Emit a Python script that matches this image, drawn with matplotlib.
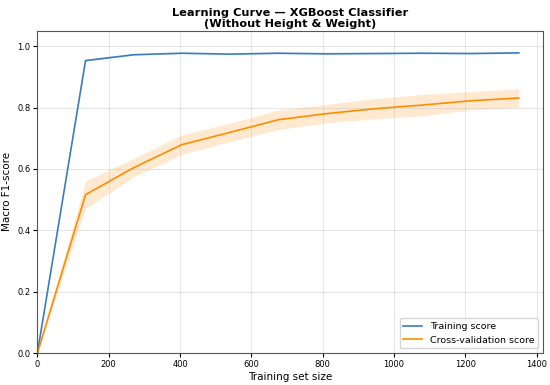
import matplotlib
matplotlib.use('Agg')
import matplotlib.pyplot as plt
import numpy as np

train_sizes = [0, 135, 270, 405, 540, 675, 810, 945, 1080, 1215, 1350]
train_mean = [0.0, 0.953, 0.972, 0.977, 0.974, 0.977, 0.975, 0.976, 0.977, 0.976, 0.978]
train_std = [0.0, 0.003, 0.002, 0.002, 0.002, 0.002, 0.002, 0.002, 0.002, 0.002, 0.002]
cv_mean = [0.0, 0.516, 0.604, 0.679, 0.719, 0.760, 0.780, 0.796, 0.808, 0.822, 0.831]
cv_std = [0.0, 0.045, 0.03, 0.032, 0.03, 0.032, 0.03, 0.033, 0.035, 0.03, 0.03]

train_sizes = np.array(train_sizes)
train_mean = np.array(train_mean)
train_std = np.array(train_std)
cv_mean = np.array(cv_mean)
cv_std = np.array(cv_std)

plt.rcParams['font.size'] = 6.5
fig, ax = plt.subplots(figsize=(5.5, 3.85), dpi=100)

ax.plot(train_sizes, train_mean, color='#3a7dbf', lw=1.2, label='Training score')
ax.fill_between(train_sizes, train_mean - train_std, train_mean + train_std,
                color='#3a7dbf', alpha=0.15, lw=0)
ax.plot(train_sizes, cv_mean, color='#ff8c00', lw=1.2, label='Cross-validation score')
ax.fill_between(train_sizes, cv_mean - cv_std, cv_mean + cv_std,
                color='#ff8c00', alpha=0.18, lw=0)

ax.set_xlim(0, 1350 * 1.05)
ax.set_ylim(0, 1.05)
ax.tick_params(labelsize=6, length=3, pad=2)
ax.set_xlabel('Training set size', fontsize=7.5, labelpad=2)
ax.set_ylabel('Macro F1-score', fontsize=7.5, labelpad=4)
ax.set_title('Learning Curve \u2014 XGBoost Classifier\n(Without Height & Weight)',
             fontsize=8.2, fontweight='bold', linespacing=1.05, pad=3)
ax.grid(True, alpha=0.3)
for s in ax.spines.values():
    s.set_color('#555555')
ax.legend(loc='lower right', fontsize=6.8)

fig.subplots_adjust(left=0.068, right=0.987, bottom=0.083, top=0.92)
fig.savefig('out.png')
